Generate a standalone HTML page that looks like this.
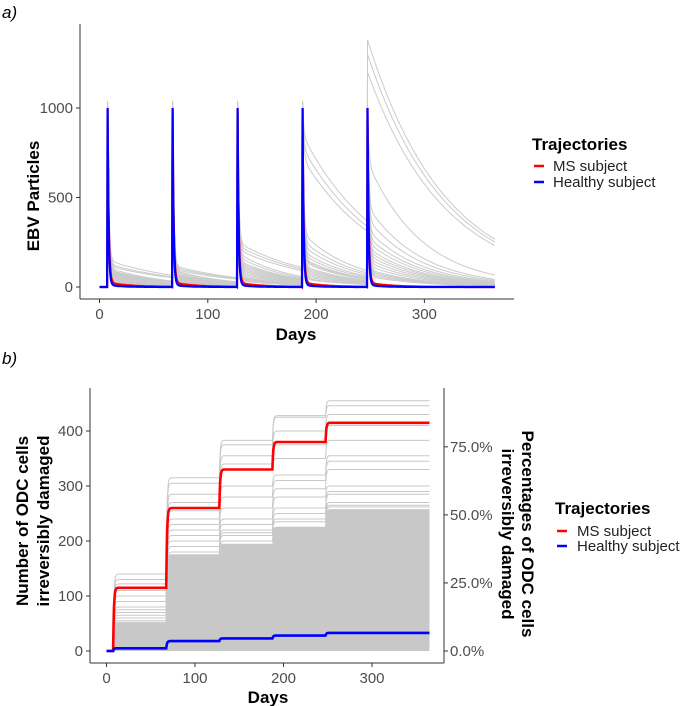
<!DOCTYPE html>
<html><head><meta charset="utf-8"><style>
body{margin:0;background:#fff;}
svg{display:block;font-family:"Liberation Sans","DejaVu Sans",sans-serif;}
</style></head><body>
<svg id="c" width="685" height="706" viewBox="0 0 685 706"></svg>
<script>
// ---------- data ----------
const spikeDays = [7, 67, 127, 187, 247];
const endDay = 365;
const xTicksA = [0, 100, 200, 300];
const yTicksA = [0, 500, 1000];
const blueTails = [12, 12, 12, 12, 12];
const redTails = [25, 25, 25, 25, 25];
// grey trajectories panel a: tail level after each spike (slow component)
const greyTailsA = [
 [150,120,250,850,1380],[130,110,230,780,1300],[120,100,210,720,1200],
 [110,95,190,300,700],[100,90,170,260,450],[95,80,150,230,380],
 [90,75,140,200,320],[85,70,130,180,280],[80,65,120,160,250],
 [75,60,110,150,220],[70,55,100,140,200],[65,50,90,120,180],
 [60,45,80,110,160],[55,40,70,100,140],[50,35,60,90,120],
 [45,30,55,80,100],[40,28,50,70,90],[35,25,45,60,80],[30,22,40,50,70],[25,20,35,45,60]
];
const xTicksB = [0, 100, 200, 300];
const yTicksB = [0, 100, 200, 300, 400];
const pctTicks = [0, 25, 50, 75];
const totalCells = 495;
const redSteps = [115, 260, 330, 380, 415];
const blueSteps = [5, 18, 23, 28, 33];
const greyBandUpper = [50, 175, 195, 225, 258];
const greyStepsB = [
 [140,315,383,428,455],[130,305,375,425,446],[122,285,355,400,430],
 [110,270,340,375,410],[100,255,330,350,383],[90,240,300,320,355],
 [80,230,280,310,345],[75,220,260,295,330],[70,210,240,280,300],
 [65,200,230,260,290],[60,190,220,250,285],[55,180,215,240,270],
 [52,175,210,235,265],[50,160,200,225,262]
];
// ---------- helpers ----------
const svg = document.getElementById('c');
const NS = 'http://www.w3.org/2000/svg';
function mk(tag, attrs, parent){const e=document.createElementNS(NS,tag);for(const k in attrs)e.setAttribute(k,attrs[k]);(parent||svg).appendChild(e);return e;}
const xa = d => 99.5 + d * 1.083;
const ya = v => 287 - v * 0.179;
const xb = d => 106.5 + d * 0.885;
const yb = v => 651 - v * 0.55;

function spikeSeries(tails, peak, fastK, slowK){
  const pts=[];
  for(let t=0;t<=endDay;t+=0.25){
    let v=0;
    for(let i=0;i<spikeDays.length;i++){
      const s=spikeDays[i];
      if(t>=s){const dt=t-s; const next=(i+1<spikeDays.length)?spikeDays[i+1]:1e9;
        if(t<next){ v = dt<0.5 ? peak*dt/0.5 : Math.max(0,(peak-tails[i]))*Math.exp(-fastK*(dt-0.5))+tails[i]*Math.exp(-slowK*(dt-0.5)); }
      }
    }
    pts.push(xa(t).toFixed(1)+','+ya(v).toFixed(1));
  }
  return pts.join(' ');
}
function stepSeries(steps){
  const pts=[];
  for(let t=0;t<=endDay;t+=0.5){
    let v=0;
    for(let i=0;i<spikeDays.length;i++){
      const prev=i?steps[i-1]:0; const s=spikeDays[i]+0.5;
      if(t>=s){const f=1-Math.exp(-(t-s)*1.2); v=prev+(steps[i]-prev)*f;}
    }
    pts.push(xb(t).toFixed(1)+','+yb(v).toFixed(1));
  }
  return pts.join(' ');
}
function txt(x,y,s,attrs,name){const e=mk('text',Object.assign({x:x,y:y},attrs));e.textContent=s;
  
  
  return e;}

// ---------- panel a ----------
txt(2,18,'a)',{'font-size':17,'font-style':'italic',fill:'#000'},'panel-a-label');
const ga=mk('g',{});


greyTailsA.forEach((tl,i)=>{
  const p=mk('polyline',{points:spikeSeries(tl,1000+tl[4]*0.03,0.9,tl[4]>1000?0.014:0.02),fill:'none',stroke:'#cbcbcb','stroke-width':1},ga);
  
  
});
const ra=mk('polyline',{points:spikeSeries(redTails,995,1.0,0.05),fill:'none',stroke:'#ff0000','stroke-width':2.2},ga);


const ba=mk('polyline',{points:spikeSeries(blueTails,1000,1.1,0.08),fill:'none',stroke:'#0000ff','stroke-width':2.2},ga);


mk('line',{x1:80,y1:24,x2:80,y2:299,stroke:'#333','stroke-width':1});
mk('line',{x1:80,y1:299,x2:514,y2:299,stroke:'#333','stroke-width':1});
yTicksA.forEach(v=>{mk('line',{x1:76,x2:80,y1:ya(v),y2:ya(v),stroke:'#333'});
  txt(73,ya(v)+5,String(v),{'font-size':15,fill:'#4d4d4d','text-anchor':'end'},'y-tick-a');});
xTicksA.forEach(v=>{mk('line',{x1:xa(v),x2:xa(v),y1:299,y2:303,stroke:'#333'});
  txt(xa(v),319,String(v),{'font-size':15,fill:'#4d4d4d','text-anchor':'middle'},'x-tick-a');});
txt(296,340,'Days',{'font-size':17,'font-weight':'bold','text-anchor':'middle'},'x-axis-title-a');
txt(0,0,'EBV Particles',{'font-size':17,'font-weight':'bold','text-anchor':'middle',transform:'translate(39,196) rotate(-90)'},'y-axis-title-a');
txt(532,150,'Trajectories',{'font-size':17,'font-weight':'bold'},'legend-title-a');
mk('line',{x1:534,x2:544,y1:166,y2:166,stroke:'#ff0000','stroke-width':2.5});
txt(553,171,'MS subject',{'font-size':15,fill:'#222'},'legend-entry-ms-a');
mk('line',{x1:534,x2:544,y1:182,y2:182,stroke:'#0000ff','stroke-width':2.5});
txt(553,187,'Healthy subject',{'font-size':15,fill:'#222'},'legend-entry-healthy-a');

// ---------- panel b ----------
txt(2,364,'b)',{'font-size':17,'font-style':'italic',fill:'#000'},'panel-b-label');
const gb=mk('g',{});


(function(){
  const up=stepSeries(greyBandUpper).split(' ');
  const pts=up.concat([xb(endDay).toFixed(1)+','+yb(0),xb(0).toFixed(1)+','+yb(0)]);
  const band=mk('polygon',{points:pts.join(' '),fill:'#c8c8c8',stroke:'none'},gb);
  
  
})();
greyStepsB.forEach(st=>{
  const p=mk('polyline',{points:stepSeries(st),fill:'none',stroke:'#c8c8c8','stroke-width':1},gb);
  
  
});
const rb=mk('polyline',{points:stepSeries(redSteps),fill:'none',stroke:'#ff0000','stroke-width':2.6},gb);


const bb=mk('polyline',{points:stepSeries(blueSteps),fill:'none',stroke:'#0000ff','stroke-width':2.6},gb);


mk('line',{x1:90,y1:388,x2:90,y2:663,stroke:'#333'});
mk('line',{x1:90,y1:663,x2:444,y2:663,stroke:'#333'});
mk('line',{x1:444,y1:388,x2:444,y2:663,stroke:'#333'});
yTicksB.forEach(v=>{mk('line',{x1:86,x2:90,y1:yb(v),y2:yb(v),stroke:'#333'});
  txt(83,yb(v)+5,String(v),{'font-size':15,fill:'#4d4d4d','text-anchor':'end'},'y-tick-b');});
pctTicks.forEach(p=>{const y=yb(p/100*totalCells);
  mk('line',{x1:444,x2:448,y1:y,y2:y,stroke:'#333'});
  txt(450,y+5,p.toFixed(1)+'%',{'font-size':15,fill:'#4d4d4d'},'right-tick-b');});
xTicksB.forEach(v=>{mk('line',{x1:xb(v),x2:xb(v),y1:663,y2:667,stroke:'#333'});
  txt(xb(v),683,String(v),{'font-size':15,fill:'#4d4d4d','text-anchor':'middle'},'x-tick-b');});
txt(268,703,'Days',{'font-size':17,'font-weight':'bold','text-anchor':'middle'},'x-axis-title-b');
txt(0,0,'Number of ODC cells',{'font-size':17,'font-weight':'bold','text-anchor':'middle',transform:'translate(28,521) rotate(-90)'},'y-axis-title-b-line1');
txt(0,0,'irreversibly damaged',{'font-size':17,'font-weight':'bold','text-anchor':'middle',transform:'translate(49,521) rotate(-90)'},'y-axis-title-b-line2');
txt(0,0,'Percentages of ODC cells',{'font-size':17,'font-weight':'bold','text-anchor':'middle',transform:'translate(522,534) rotate(90)'},'right-axis-title-line1');
txt(0,0,'irreversibly damaged',{'font-size':17,'font-weight':'bold','text-anchor':'middle',transform:'translate(502,534) rotate(90)'},'right-axis-title-line2');
txt(555,514,'Trajectories',{'font-size':17,'font-weight':'bold'},'legend-title-b');
mk('line',{x1:557,x2:567,y1:531,y2:531,stroke:'#ff0000','stroke-width':2.5});
txt(577,536,'MS subject',{'font-size':15,fill:'#222'},'legend-entry-ms-b');
mk('line',{x1:557,x2:567,y1:546,y2:546,stroke:'#0000ff','stroke-width':2.5});
txt(577,551,'Healthy subject',{'font-size':15,fill:'#222'},'legend-entry-healthy-b');
</script>
</body></html>
